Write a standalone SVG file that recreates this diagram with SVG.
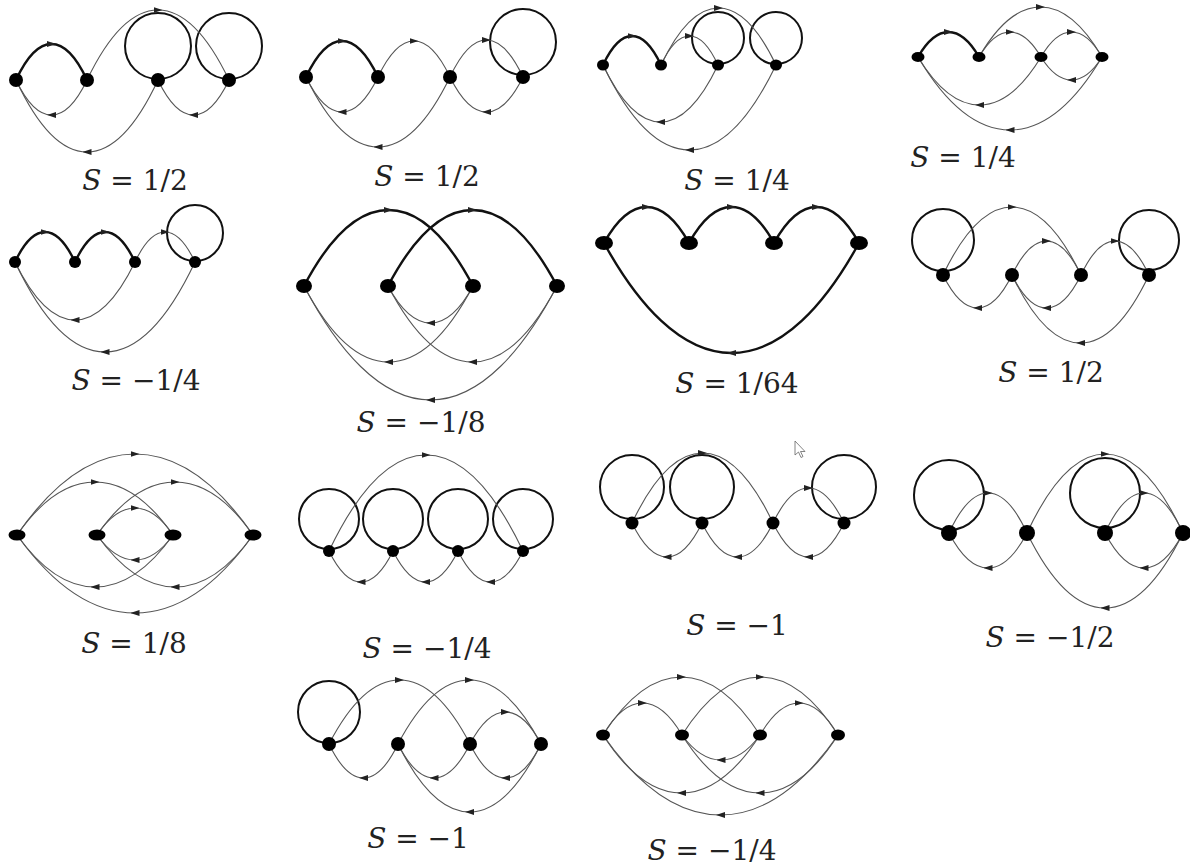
<svg xmlns="http://www.w3.org/2000/svg" width="1190" height="867" viewBox="0 0 1190 867">
<defs>
<marker id="arr" markerUnits="userSpaceOnUse" markerWidth="9" markerHeight="7" refX="4.5" refY="3" orient="auto" viewBox="0 0 9 6">
<path d="M0,0 L9,3 L0,6 z" fill="#222"/>
</marker>
</defs>
<style>
.e{fill:none;stroke:#555;stroke-width:1.1;marker-mid:url(#arr)}
.t{fill:none;stroke:#111;stroke-width:2.4;marker-mid:url(#arr)}
.c{fill:none;stroke:#111;stroke-width:2}
.n{fill:#000}
.lb{font-family:"DejaVu Serif","Liberation Serif",serif;font-size:28px;fill:#222;text-anchor:middle}
.lb tspan.s{font-style:italic}
.cur{fill:#fff;stroke:#666;stroke-width:0.8}
</style>
<rect width="1190" height="867" fill="#fff"/>

<!-- Diagram 1 -->
<g id="d1">
<g id="d1-edges">
<circle class="c" cx="158" cy="46" r="33"/>
<circle class="c" cx="229" cy="46" r="33"/>
<path class="t" d="M16 80C25.2 60.2 37.3 44 51.5 44S77.8 60.2 87 80"/>
<path class="e" d="M87 80C77.8 99.3 65.7 115 51.5 115S25.2 99.3 16 80"/>
<path class="e" d="M158 80C139.5 119.6 115.4 152 87 152S34.5 119.6 16 80"/>
<path class="e" d="M87 80C105.5 41.5 129.6 10 158 10S210.5 41.5 229 80"/>
<path class="e" d="M229 80C219.8 99.3 207.7 115 193.5 115S167.2 99.3 158 80"/>
</g>
<g id="d1-n1"><circle class="n" cx="16" cy="80" r="7"/></g>
<g id="d1-n2"><circle class="n" cx="87" cy="80" r="7"/></g>
<g id="d1-n3"><circle class="n" cx="158" cy="80" r="7"/></g>
<g id="d1-n4"><circle class="n" cx="229" cy="80" r="7"/></g>
<text class="lb" x="135" y="190"><tspan class="s">S</tspan> = 1/2</text>
</g>

<!-- Diagram 2 -->
<g id="d2">
<g id="d2-edges">
<circle class="c" cx="523" cy="42" r="33"/>
<path class="t" d="M306 77C315.4 57.2 327.6 41 342 41S368.6 57.2 378 77"/>
<path class="e" d="M378 77C368.6 96.3 356.4 112 342 112S315.4 96.3 306 77"/>
<path class="e" d="M378 77C387.4 57.2 399.6 41 414 41S440.6 57.2 450 77"/>
<path class="e" d="M450 77C431.3 115.5 406.8 147 378 147S324.7 115.5 306 77"/>
<path class="e" d="M450 77C459.5 56.7 471.9 40 486.5 40S513.5 56.7 523 77"/>
<path class="e" d="M523 77C513.5 96.3 501.1 112 486.5 112S459.5 96.3 450 77"/>
</g>
<g id="d2-n1"><circle class="n" cx="306" cy="77" r="7"/></g>
<g id="d2-n2"><circle class="n" cx="378" cy="77" r="7"/></g>
<g id="d2-n3"><circle class="n" cx="450" cy="77" r="7"/></g>
<g id="d2-n4"><circle class="n" cx="523" cy="77" r="7"/></g>
<text class="lb" x="427" y="186"><tspan class="s">S</tspan> = 1/2</text>
</g>

<!-- Diagram 3 -->
<g id="d3">
<g id="d3-edges">
<circle class="c" cx="718" cy="38" r="26"/>
<circle class="c" cx="776" cy="38" r="26"/>
<path class="t" d="M603 65C610.5 49 620.4 36 632 36S653.5 49 661 65"/>
<path class="e" d="M661 65C668.4 49 678.1 36 689.5 36S710.6 49 718 65"/>
<path class="e" d="M661 65C676 33.6 695.5 8 718.5 8S761 33.6 776 65"/>
<path class="e" d="M718 65C703 96.4 683.5 122 660.5 122S618 96.4 603 65"/>
<path class="e" d="M776 65C753.5 111.8 724.1 150 689.5 150S625.5 111.8 603 65"/>
</g>
<g id="d3-n1"><ellipse class="n" cx="603" cy="65" rx="6" ry="5.5"/></g>
<g id="d3-n2"><ellipse class="n" cx="661" cy="65" rx="6" ry="5.5"/></g>
<g id="d3-n3"><ellipse class="n" cx="718" cy="65" rx="6" ry="5.5"/></g>
<g id="d3-n4"><ellipse class="n" cx="776" cy="65" rx="6" ry="5.5"/></g>
<text class="lb" x="737" y="190"><tspan class="s">S</tspan> = 1/4</text>
</g>

<!-- Diagram 4 -->
<g id="d4">
<g id="d4-edges">
<path class="t" d="M918 57C925.9 43.3 936.3 32 948.5 32S971.1 43.3 979 57"/>
<path class="e" d="M979 57C987.1 43.3 997.6 32 1010 32S1032.9 43.3 1041 57"/>
<path class="e" d="M1041 57C1048.9 43.3 1059.3 32 1071.5 32S1094.1 43.3 1102 57"/>
<path class="e" d="M1102 57C1094.1 69.7 1083.7 80 1071.5 80S1048.9 69.7 1041 57"/>
<path class="e" d="M979 57C995 29.5 1015.9 7 1040.5 7S1086 29.5 1102 57"/>
<path class="e" d="M1041 57C1025 83.4 1004.1 105 979.5 105S934 83.4 918 57"/>
<path class="e" d="M1102 57C1078.1 97.2 1046.8 130 1010 130S941.9 97.2 918 57"/>
</g>
<g id="d4-n1"><ellipse class="n" cx="918" cy="57" rx="6.5" ry="5"/></g>
<g id="d4-n2"><ellipse class="n" cx="979" cy="57" rx="6.5" ry="5"/></g>
<g id="d4-n3"><ellipse class="n" cx="1041" cy="57" rx="6.5" ry="5"/></g>
<g id="d4-n4"><ellipse class="n" cx="1102" cy="57" rx="6.5" ry="5"/></g>
<text class="lb" x="963" y="167"><tspan class="s">S</tspan> = 1/4</text>
</g>

<!-- Diagram 5 -->
<g id="d5">
<g id="d5-edges">
<circle class="c" cx="195" cy="233" r="28"/>
<path class="t" d="M15 262C22.8 245.5 33 232 45 232S67.2 245.5 75 262"/>
<path class="t" d="M75 262C82.8 245.5 93 232 105 232S127.2 245.5 135 262"/>
<path class="e" d="M135 262C142.8 245.5 153 232 165 232S187.2 245.5 195 262"/>
<path class="e" d="M135 262C119.4 293.9 99 320 75 320S30.6 293.9 15 262"/>
<path class="e" d="M195 262C171.6 311.5 141 352 105 352S38.4 311.5 15 262"/>
</g>
<g id="d5-n1"><circle class="n" cx="15" cy="262" r="6"/></g>
<g id="d5-n2"><circle class="n" cx="75" cy="262" r="6"/></g>
<g id="d5-n3"><circle class="n" cx="135" cy="262" r="6"/></g>
<g id="d5-n4"><circle class="n" cx="195" cy="262" r="6"/></g>
<text class="lb" x="136" y="390"><tspan class="s">S</tspan> = −1/4</text>
</g>

<!-- Diagram 6 -->
<g id="d6">
<g id="d6-edges">
<path class="t" d="M304 286C326 244.2 354.7 210 388.5 210S451 244.2 473 286"/>
<path class="t" d="M388 286C410 244.2 438.7 210 472.5 210S535 244.2 557 286"/>
<path class="e" d="M473 286C462 306.4 447.5 323 430.5 323S399 306.4 388 286"/>
<path class="e" d="M473 286C451 327.8 422.3 362 388.5 362S326 327.8 304 286"/>
<path class="e" d="M557 286C535 327.8 506.3 362 472.5 362S410 327.8 388 286"/>
<path class="e" d="M557 286C524.1 348.7 481.1 400 430.5 400S336.9 348.7 304 286"/>
</g>
<g id="d6-n1"><ellipse class="n" cx="304" cy="286" rx="8" ry="7"/></g>
<g id="d6-n2"><ellipse class="n" cx="388" cy="286" rx="8" ry="7"/></g>
<g id="d6-n3"><ellipse class="n" cx="473" cy="286" rx="8" ry="7"/></g>
<g id="d6-n4"><ellipse class="n" cx="557" cy="286" rx="8" ry="7"/></g>
<text class="lb" x="421" y="432"><tspan class="s">S</tspan> = −1/8</text>
</g>

<!-- Diagram 7 -->
<g id="d7">
<g id="d7-edges">
<path class="t" d="M604 243C615 223.2 629.5 207 646.5 207S678 223.2 689 243"/>
<path class="t" d="M689 243C700 223.2 714.5 207 731.5 207S763 223.2 774 243"/>
<path class="t" d="M774 243C785 223.2 799.5 207 816.5 207S848 223.2 859 243"/>
<path class="t" d="M859 243C825.8 303.5 782.5 353 731.5 353S637.2 303.5 604 243"/>
</g>
<g id="d7-n1"><ellipse class="n" cx="604" cy="243" rx="9" ry="7"/></g>
<g id="d7-n2"><ellipse class="n" cx="689" cy="243" rx="9" ry="7"/></g>
<g id="d7-n3"><ellipse class="n" cx="774" cy="243" rx="9" ry="7"/></g>
<g id="d7-n4"><ellipse class="n" cx="859" cy="243" rx="9" ry="7"/></g>
<text class="lb" x="737" y="393"><tspan class="s">S</tspan> = 1/64</text>
</g>

<!-- Diagram 8 -->
<g id="d8">
<g id="d8-edges">
<circle class="c" cx="943" cy="240" r="31"/>
<circle class="c" cx="1149" cy="240" r="30"/>
<path class="e" d="M943 275C960.9 237.6 984.4 207 1012 207S1063.1 237.6 1081 275"/>
<path class="e" d="M1012 275C1021 256.3 1032.7 241 1046.5 241S1072 256.3 1081 275"/>
<path class="e" d="M1081 275C1089.8 256.3 1101.4 241 1115 241S1140.2 256.3 1149 275"/>
<path class="e" d="M1012 275C1003 293.2 991.3 308 977.5 308S952 293.2 943 275"/>
<path class="e" d="M1081 275C1072 293.2 1060.3 308 1046.5 308S1021 293.2 1012 275"/>
<path class="e" d="M1149 275C1131.2 312.4 1107.9 343 1080.5 343S1029.8 312.4 1012 275"/>
</g>
<g id="d8-n1"><circle class="n" cx="943" cy="275" r="7"/></g>
<g id="d8-n2"><circle class="n" cx="1012" cy="275" r="7"/></g>
<g id="d8-n3"><circle class="n" cx="1081" cy="275" r="7"/></g>
<g id="d8-n4"><circle class="n" cx="1149" cy="275" r="7"/></g>
<text class="lb" x="1051" y="382"><tspan class="s">S</tspan> = 1/2</text>
</g>

<!-- Diagram 9 -->
<g id="d9">
<g id="d9-edges">
<path class="e" d="M17 535C47.7 490.5 87.8 454 135 454S222.3 490.5 253 535"/>
<path class="e" d="M17 535C37.3 505.9 63.8 482 95 482S152.7 505.9 173 535"/>
<path class="e" d="M97 535C117.3 505.9 143.8 482 175 482S232.7 505.9 253 535"/>
<path class="e" d="M97 535C106.9 520.2 119.8 508 135 508S163.1 520.2 173 535"/>
<path class="e" d="M173 535C163.1 548.8 150.2 560 135 560S106.9 548.8 97 535"/>
<path class="e" d="M173 535C152.7 563.6 126.2 587 95 587S37.3 563.6 17 535"/>
<path class="e" d="M253 535C232.7 563.6 206.2 587 175 587S117.3 563.6 97 535"/>
<path class="e" d="M253 535C222.3 577.9 182.2 613 135 613S47.7 577.9 17 535"/>
</g>
<g id="d9-n1"><ellipse class="n" cx="17" cy="535" rx="8.5" ry="5.5"/></g>
<g id="d9-n2"><ellipse class="n" cx="97" cy="535" rx="8.5" ry="5.5"/></g>
<g id="d9-n3"><ellipse class="n" cx="173" cy="535" rx="8.5" ry="5.5"/></g>
<g id="d9-n4"><ellipse class="n" cx="253" cy="535" rx="8.5" ry="5.5"/></g>
<text class="lb" x="134" y="653"><tspan class="s">S</tspan> = 1/8</text>
</g>

<!-- Diagram 10 -->
<g id="d10">
<g id="d10-edges">
<circle class="c" cx="329" cy="519" r="30"/>
<circle class="c" cx="393" cy="519" r="30"/>
<circle class="c" cx="458" cy="519" r="30"/>
<circle class="c" cx="523" cy="519" r="30"/>
<path class="e" d="M329 551C354.2 498.2 387.2 455 426 455S497.8 498.2 523 551"/>
<path class="e" d="M393 551C384.7 568 373.8 582 361 582S337.3 568 329 551"/>
<path class="e" d="M458 551C449.5 568 438.5 582 425.5 582S401.5 568 393 551"/>
<path class="e" d="M523 551C514.5 568 503.5 582 490.5 582S466.5 568 458 551"/>
</g>
<g id="d10-n1"><circle class="n" cx="329" cy="551" r="6"/></g>
<g id="d10-n2"><circle class="n" cx="393" cy="551" r="6"/></g>
<g id="d10-n3"><circle class="n" cx="458" cy="551" r="6"/></g>
<g id="d10-n4"><circle class="n" cx="523" cy="551" r="6"/></g>
<text class="lb" x="427" y="658"><tspan class="s">S</tspan> = −1/4</text>
</g>

<!-- Diagram 11 -->
<g id="d11">
<g id="d11-edges">
<circle class="c" cx="632" cy="487" r="32"/>
<circle class="c" cx="702" cy="487" r="32"/>
<circle class="c" cx="844" cy="487" r="32"/>
<path class="e" d="M632 523C650.3 484.5 674.3 453 702.5 453S754.7 484.5 773 523"/>
<path class="e" d="M773 523C782.2 503.8 794.3 488 808.5 488S834.8 503.8 844 523"/>
<path class="e" d="M702 523C692.9 541.7 681 557 667 557S641.1 541.7 632 523"/>
<path class="e" d="M773 523C763.8 541.7 751.7 557 737.5 557S711.2 541.7 702 523"/>
<path class="e" d="M844 523C834.8 541.7 822.7 557 808.5 557S782.2 541.7 773 523"/>
</g>
<g id="d11-n1"><circle class="n" cx="632" cy="523" r="6.5"/></g>
<g id="d11-n2"><circle class="n" cx="702" cy="523" r="6.5"/></g>
<g id="d11-n3"><circle class="n" cx="773" cy="523" r="6.5"/></g>
<g id="d11-n4"><circle class="n" cx="844" cy="523" r="6.5"/></g>
<text class="lb" x="737" y="635"><tspan class="s">S</tspan> = −1</text>
</g>
<polygon class="cur" points="795,441 795,455 798.5,452 801,457.5 803,456.5 800.5,451.5 805,451.5"/>

<!-- Diagram 12 -->
<g id="d12">
<g id="d12-edges">
<circle class="c" cx="949" cy="495" r="35"/>
<circle class="c" cx="1105" cy="493" r="35"/>
<path class="e" d="M949 533C959.1 511 972.4 493 988 493S1016.9 511 1027 533"/>
<path class="e" d="M1027 533C1047.3 489.6 1073.8 454 1105 454S1162.7 489.6 1183 533"/>
<path class="e" d="M1105 533C1115.1 511 1128.4 493 1144 493S1172.9 511 1183 533"/>
<path class="e" d="M1027 533C1016.9 552.3 1003.6 568 988 568S959.1 552.3 949 533"/>
<path class="e" d="M1183 533C1172.9 552.3 1159.6 568 1144 568S1115.1 552.3 1105 533"/>
<path class="e" d="M1183 533C1162.7 574.3 1136.2 608 1105 608S1047.3 574.3 1027 533"/>
</g>
<g id="d12-n1"><circle class="n" cx="949" cy="533" r="8"/></g>
<g id="d12-n2"><circle class="n" cx="1027" cy="533" r="8"/></g>
<g id="d12-n3"><circle class="n" cx="1105" cy="533" r="8"/></g>
<g id="d12-n4"><circle class="n" cx="1183" cy="533" r="8"/></g>
<text class="lb" x="1050" y="647"><tspan class="s">S</tspan> = −1/2</text>
</g>

<!-- Diagram 13 -->
<g id="d13">
<g id="d13-edges">
<circle class="c" cx="329" cy="712" r="31"/>
<path class="e" d="M329 744C347.3 708.8 371.3 680 399.5 680S451.7 708.8 470 744"/>
<path class="e" d="M398 744C416.6 708.8 440.9 680 469.5 680S522.4 708.8 541 744"/>
<path class="e" d="M470 744C479.2 726.4 491.3 712 505.5 712S531.8 726.4 541 744"/>
<path class="e" d="M398 744C389 762.7 377.3 778 363.5 778S338 762.7 329 744"/>
<path class="e" d="M470 744C460.6 762.7 448.4 778 434 778S407.4 762.7 398 744"/>
<path class="e" d="M541 744C531.8 762.7 519.7 778 505.5 778S479.2 762.7 470 744"/>
<path class="e" d="M541 744C522.4 781.4 498.1 812 469.5 812S416.6 781.4 398 744"/>
</g>
<g id="d13-n1"><circle class="n" cx="329" cy="744" r="7"/></g>
<g id="d13-n2"><circle class="n" cx="398" cy="744" r="7"/></g>
<g id="d13-n3"><circle class="n" cx="470" cy="744" r="7"/></g>
<g id="d13-n4"><circle class="n" cx="541" cy="744" r="7"/></g>
<text class="lb" x="418" y="848"><tspan class="s">S</tspan> = −1</text>
</g>

<!-- Diagram 14 -->
<g id="d14">
<g id="d14-edges">
<path class="e" d="M603 735C613.3 717.4 626.6 703 642.5 703S671.7 717.4 682 735"/>
<path class="e" d="M603 735C623.5 703.1 650.2 677 681.5 677S739.5 703.1 760 735"/>
<path class="e" d="M682 735C702.3 703.1 728.8 677 760 677S817.7 703.1 838 735"/>
<path class="e" d="M760 735C770.3 717.4 783.6 703 799 703S827.7 717.4 838 735"/>
<path class="e" d="M760 735C749.9 748.8 736.6 760 721 760S692.1 748.8 682 735"/>
<path class="e" d="M760 735C739.5 766.9 712.8 793 681.5 793S623.5 766.9 603 735"/>
<path class="e" d="M838 735C817.7 766.9 791.2 793 760 793S702.3 766.9 682 735"/>
<path class="e" d="M838 735C807.4 779 767.4 815 720.5 815S633.6 779 603 735"/>
</g>
<g id="d14-n1"><ellipse class="n" cx="603" cy="735" rx="7" ry="5.5"/></g>
<g id="d14-n2"><ellipse class="n" cx="682" cy="735" rx="7" ry="5.5"/></g>
<g id="d14-n3"><ellipse class="n" cx="760" cy="735" rx="7" ry="5.5"/></g>
<g id="d14-n4"><ellipse class="n" cx="838" cy="735" rx="7" ry="5.5"/></g>
<text class="lb" x="712" y="860"><tspan class="s">S</tspan> = −1/4</text>
</g>
</svg>
